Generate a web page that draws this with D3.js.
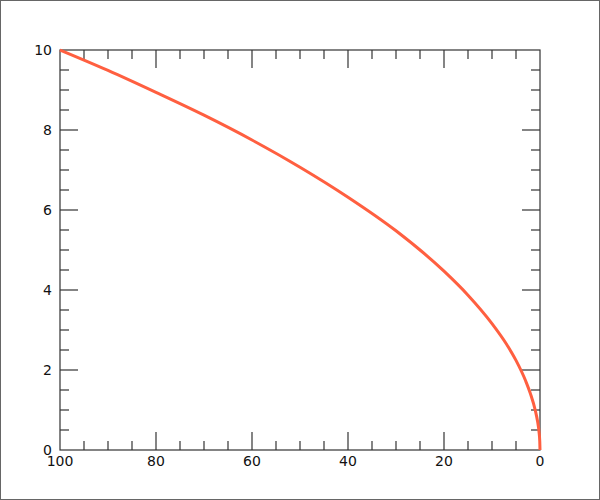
<!DOCTYPE html>
<head>
  <meta charset="utf-8">
  <script src="https://d3js.org/d3.v7.min.js"></script>
  <style>
    body { margin: 0; background: #fff; }
    text { font-family: "DejaVu Sans", sans-serif; font-size: 14px; fill: #111; }
  </style>
</head>
<body>
<svg width="600" height="500"></svg>

<script type="text/javascript">

// values (x runs from 100 down to 0)
var xVals = [100, 90, 80, 70, 60, 50, 40, 30, 20, 15, 10, 7, 5, 3, 2, 1, 0.5, 0.2, 0.05, 0];
var yVals = [10, 9.49, 8.94, 8.37, 7.75, 7.07, 6.32, 5.48, 4.47, 3.87, 3.16, 2.65, 2.24, 1.73, 1.41, 1.0, 0.71, 0.45, 0.22, 0];
var xTickLabels = [100, 80, 60, 40, 20, 0];
var yTickLabels = [0, 2, 4, 6, 8, 10];

var svg = d3.select("svg");

// outer frame
svg.append("rect")
  .attr("x", 0.5).attr("y", 0.5)
  .attr("width", 599).attr("height", 499)
  .attr("fill", "none")
  .attr("stroke", "#666");

// plot box (note: "top" is reserved on window, so use pTop etc.)
var pLeft = 60, pRight = 540, pTop = 50, pBottom = 450;

var x = d3.scaleLinear().domain([100, 0]).range([pLeft, pRight]);
var y = d3.scaleLinear().domain([0, 10]).range([pBottom, pTop]);

var g = svg.append("g");

g.append("rect")
  .attr("x", pLeft).attr("y", pTop)
  .attr("width", pRight - pLeft).attr("height", pBottom - pTop)
  .attr("fill", "none")
  .attr("stroke", "#333")
  .attr("stroke-width", 1.2);

// x ticks: major every 20, minor every 5, inside on bottom and top
d3.range(5, 100, 5).forEach(function(v) {
  var len = v % 20 == 0 ? 18 : 9;
  g.append("line").attr("x1", x(v)).attr("x2", x(v))
    .attr("y1", pBottom).attr("y2", pBottom - len)
    .attr("stroke", "#333").attr("stroke-width", 1.2);
  g.append("line").attr("x1", x(v)).attr("x2", x(v))
    .attr("y1", pTop).attr("y2", pTop + len)
    .attr("stroke", "#333").attr("stroke-width", 1.2);
});

// y ticks: major every 2, minor every 0.5, inside on left and right
d3.range(1, 20).forEach(function(k) {
  var v = k / 2;
  var len = k % 4 == 0 ? 18 : 9;
  g.append("line").attr("y1", y(v)).attr("y2", y(v))
    .attr("x1", pLeft).attr("x2", pLeft + len)
    .attr("stroke", "#333").attr("stroke-width", 1.2);
  g.append("line").attr("y1", y(v)).attr("y2", y(v))
    .attr("x1", pRight).attr("x2", pRight - len)
    .attr("stroke", "#333").attr("stroke-width", 1.2);
});

g.selectAll(".xl")
  .data(xTickLabels)
  .enter().append("text")
    .attr("x", function(d) { return x(d); })
    .attr("y", 466)
    .attr("text-anchor", "middle")
    .text(function(d) { return d; });

g.selectAll(".yl")
  .data(yTickLabels)
  .enter().append("text")
    .attr("x", 52)
    .attr("y", function(d) { return y(d) + 5; })
    .attr("text-anchor", "end")
    .text(function(d) { return d; });

var pts = xVals.map(function(v, i) { return [v, yVals[i]]; });

var line = d3.line()
  .x(function(d) { return x(d[0]); })
  .y(function(d) { return y(d[1]); })
  .curve(d3.curveMonotoneX);

g.append("path")
  .datum(pts)
  .attr("d", line)
  .attr("fill", "none")
  .attr("stroke", "#ff5f40")
  .attr("stroke-width", 3);

</script>
</body>
</html>
